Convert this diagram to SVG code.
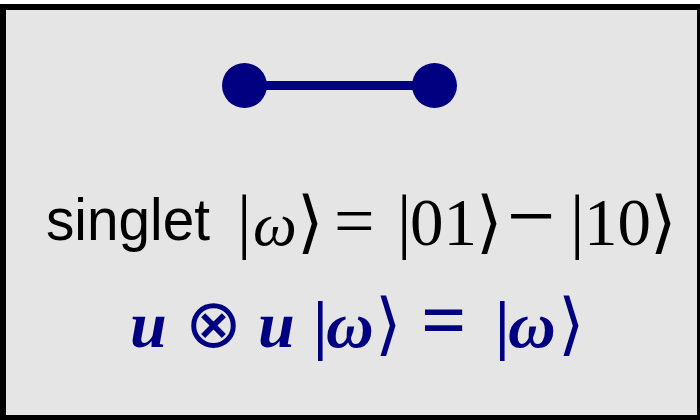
<svg xmlns="http://www.w3.org/2000/svg" width="700" height="420" viewBox="0 0 700 420">
<style>
.frame{fill:#e5e5e5;stroke:#000;stroke-width:6}
.node{fill:#000080}
.edge{stroke:#000080;stroke-width:9}
.sans{font-family:"Liberation Sans",Arial,sans-serif;font-size:60px;fill:#000}
.m{font-family:"Liberation Serif",serif;font-size:72px;fill:#000}
.dg{font-size:67px}
.br{font-family:"DejaVu Serif",serif;font-size:68px;font-weight:normal}
.mi{font-style:italic;font-size:62px}
.b{fill:#000080;font-family:"Liberation Serif",serif;font-size:66px;font-weight:bold}
.bi{font-style:italic}
.ot{font-family:"DejaVu Sans",sans-serif;font-weight:normal;font-size:68px}
</style>
<rect class="frame" x="3" y="7" width="697" height="411"/>
<g id="connectors">
<line class="edge" x1="245" y1="85.5" x2="435" y2="85.5"/>
</g>
<g id="node-left"><circle class="node" cx="244.5" cy="85.5" r="22.5"/></g>
<g id="node-right"><circle class="node" cx="434.5" cy="85.5" r="22.5"/></g>
<g id="label-singlet">
<text class="sans" x="46" y="240" textLength="164" lengthAdjust="spacingAndGlyphs">singlet</text>
<text class="m" y="245"><tspan x="237">|</tspan><tspan class="mi" x="253">ω</tspan><tspan class="br" x="297">⟩</tspan><tspan x="334">=</tspan><tspan x="397">|</tspan><tspan class="dg" x="410">01</tspan><tspan class="br" x="476">⟩</tspan><tspan x="507" font-size="86">−</tspan><tspan x="570">|</tspan><tspan class="dg" x="584">10</tspan><tspan class="br" x="650">⟩</tspan></text>
</g>
<g id="label-invariance">
<text class="b" y="347"><tspan class="bi" x="130">u</tspan><tspan class="ot" x="185">⊗</tspan><tspan class="bi" x="258">u</tspan><tspan x="313">|</tspan><tspan class="bi" x="326">ω</tspan><tspan class="br" x="375">⟩</tspan><tspan x="421" font-size="80">=</tspan><tspan x="495">|</tspan><tspan class="bi" x="508">ω</tspan><tspan class="br" x="558">⟩</tspan></text>
</g>
</svg>
